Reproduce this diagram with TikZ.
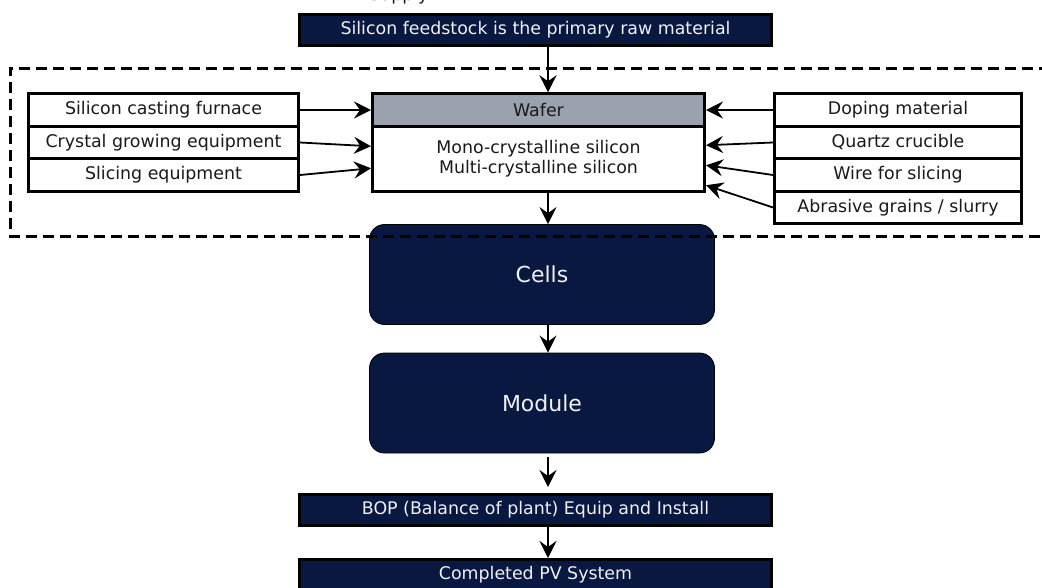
\documentclass[tikz,border=0pt]{standalone}
\usepackage{fontspec}
\setmainfont{DejaVu Sans}
\usetikzlibrary{arrows.meta,calc}
\definecolor{navy}{HTML}{081840}
\definecolor{waferhead}{HTML}{9AA1AF}
\definecolor{lighttext}{HTML}{F0F0F2}
\definecolor{inktext}{HTML}{1A1A1A}

\begin{document}
\begin{tikzpicture}[x=1pt,y=-1pt,
  boxfont/.style={font=\fontsize{17.4}{20.5}\selectfont},
  bigfont/.style={font=\fontsize{22}{26}\selectfont},
  darkbar/.style={draw=black, line width=3pt, fill=navy, text=lighttext, boxfont,
    minimum width=472pt, minimum height=31pt, inner sep=0pt},
  listbox/.style={draw=black, line width=3pt, fill=white, text=inktext, boxfont,
    minimum height=32.5pt, inner sep=0pt},
  stage/.style={draw=black, line width=0.8pt, fill=navy, text=lighttext, bigfont,
    rounded corners=15pt, minimum width=345pt, minimum height=100pt, inner sep=0pt},
  arr/.style={draw=black, line width=1.8pt,
    -{Stealth[length=17pt, width=17pt, inset=6pt]}},
  frame/.style={draw=black, line width=3pt, dash pattern=on 11pt off 6pt, line join=miter}
]
\useasboundingbox (0,0) rectangle (1042,587);

% heading, only its lower edge falls on the page
\node[anchor=base west, inner sep=0pt, boxfont, text=inktext] (title) at (369,0.5) {Supply};

% raw material
\node[darkbar] (feed) at (535.5,30) {Silicon feedstock is the primary raw material};

% equipment feeding the wafer stage
\node[listbox, minimum width=270pt] (l1) at (163.5,110)   {Silicon casting furnace};
\node[listbox, minimum width=270pt] (l2) at (163.5,142.5) {Crystal growing equipment};
\node[listbox, minimum width=270pt] (l3) at (163.5,175)   {Slicing equipment};

% wafer stage
\node[listbox, minimum width=332pt, fill=waferhead] (whead) at (538.5,110) {Wafer};
\node[listbox, minimum width=332pt, minimum height=65pt, align=center] (wbody) at (538.5,158.75)
  {Mono-crystalline silicon\\Multi-crystalline silicon};

% consumables feeding the wafer stage
\node[listbox, minimum width=247pt] (r1) at (898,110)   {Doping material};
\node[listbox, minimum width=247pt] (r2) at (898,142.5) {Quartz crucible};
\node[listbox, minimum width=247pt] (r3) at (898,175)   {Wire for slicing};
\node[listbox, minimum width=247pt] (r4) at (898,207.5) {Abrasive grains / slurry};

% downstream stages
\node[stage] (cells)  at (542,274.5) {Cells};
\node[stage] (module) at (542,403)   {Module};
\node[darkbar] (bop)  at (535.5,510) {BOP (Balance of plant) Equip and Install};
\node[darkbar] (pv)   at (535.5,575) {Completed PV System};

% main flow axis
\coordinate (ax) at (548,0);

\draw[arr] (feed.south -| ax) -- (whead.north -| ax);
\draw[arr] (wbody.south -| ax) -- (cells.north -| ax);
\draw[arr] (cells.south -| ax) -- (module.north -| ax);
\draw[arr] ($(module.south -| ax)+(0,3.5)$) -- ($(bop.north -| ax)+(0,-6)$);
\draw[arr] (bop.south -| ax) -- (pv.north -| ax);

% inputs from the left
\draw[arr] (l1.east) -- (whead.west);
\draw[arr] (l2.east) -- ($(wbody.west)+(0,-12.5)$);
\draw[arr] (l3.east) -- ($(wbody.west)+(0,9.5)$);

% inputs from the right
\draw[arr] (r1.west) -- (whead.east);
\draw[arr] (r2.west) -- ($(wbody.east)+(0,-13.5)$);
\draw[arr] (r3.west) -- ($(wbody.east)+(0,6.5)$);
\draw[arr] (r4.west) -- ($(wbody.east)+(0,26.5)$);

% wafer manufacturing boundary, open to the right
\coordinate (ftl) at (10,68);
\coordinate (fbl) at (10,236);
\coordinate (ftr) at (1050,68);
\coordinate (fbr) at (1050,236);
\draw[frame] (ftr) -- (ftl) -- (fbl) -- (fbr);
\end{tikzpicture}
\end{document}
